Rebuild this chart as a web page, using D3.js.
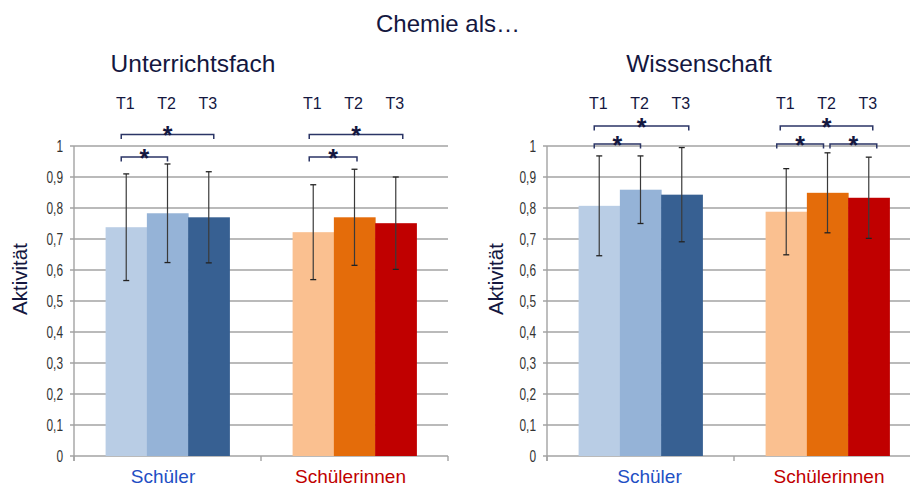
<!DOCTYPE html>
<html>
<head>
<meta charset="utf-8">
<script src="https://cdn.jsdelivr.net/npm/d3@7"></script>
<style>
  html, body { margin: 0; padding: 0; background: #fff; }
  svg { display: block; }
</style>
</head>
<body>
<svg id="chart" width="910" height="488"></svg>
<script>
// ---------- data ----------
const categories = ["Schüler", "Schülerinnen"];
const timepoints = ["T1", "T2", "T3"];
const yTickValues = [0, 0.1, 0.2, 0.3, 0.4, 0.5, 0.6, 0.7, 0.8, 0.9, 1];
const yTickLabels = ["0", "0,1", "0,2", "0,3", "0,4", "0,5", "0,6", "0,7", "0,8", "0,9", "1"];

const unterrichtSchueler      = [0.738, 0.783, 0.770];
const unterrichtSchuelerSD    = [0.172, 0.159, 0.147];
const unterrichtSchuelerinnen = [0.722, 0.770, 0.751];
const unterrichtSchuelerinnenSD = [0.153, 0.155, 0.149];

const wissenschaftSchueler      = [0.807, 0.859, 0.843];
const wissenschaftSchuelerSD    = [0.161, 0.109, 0.152];
const wissenschaftSchuelerinnen = [0.788, 0.849, 0.833];
const wissenschaftSchuelerinnenSD = [0.139, 0.129, 0.131];

// significance brackets: category index, from, to, level
const unterrichtBrackets = [
  { cat: 0, from: 0, to: 1, level: 0 },
  { cat: 0, from: 0, to: 2, level: 1 },
  { cat: 1, from: 0, to: 1, level: 0 },
  { cat: 1, from: 0, to: 2, level: 1 }
];
const wissenschaftBrackets = [
  { cat: 0, from: 0, to: 1, level: 0 },
  { cat: 0, from: 0, to: 2, level: 1 },
  { cat: 1, from: 0, to: 1, level: 0 },
  { cat: 1, from: 1, to: 2, level: 0 },
  { cat: 1, from: 0, to: 2, level: 1 }
];

// ---------- styles ----------
const colors = [
  ["#B9CDE5", "#95B3D7", "#376092"],
  ["#FAC090", "#E46C0A", "#C00000"]
];
const catColors = ["#1F4FC4", "#C00000"];
const navy = "#14173F";
const gridColor = "#A3A3A3";
const sans = "Liberation Sans, Arial, sans-serif";

const svg = d3.select("#chart");

svg.append("text")
  .attr("x", 448).attr("y", 31.5)
  .attr("text-anchor", "middle")
  .attr("font-family", sans)
  .attr("font-size", 24).attr("fill", navy)
  .text("Chemie als…");

const y = d3.scaleLinear().domain([0, 1]).range([456, 146]);

const panels = [
  { title: "Unterrichtsfach", titleX: 193, x0: 74, x1: 448, labelX: 27,
    catLabelDx: [-4.5, -4],
    means: [unterrichtSchueler, unterrichtSchuelerinnen],
    sds: [unterrichtSchuelerSD, unterrichtSchuelerinnenSD],
    brackets: unterrichtBrackets, levelY: [157, 134.5],
    bracketDx: [[-5, 0], [-5, 5], [-4, 2.5], [-4, 7]] },
  { title: "Wissenschaft", titleX: 699, x0: 547, x1: 921, labelX: 503,
    catLabelDx: [9, 1.5],
    means: [wissenschaftSchueler, wissenschaftSchuelerinnen],
    sds: [wissenschaftSchuelerSD, wissenschaftSchuelerinnenSD],
    brackets: wissenschaftBrackets, levelY: [144, 126],
    bracketDx: [[-5, 0], [-5, 7], [-9.5, -4], [2.5, 8], [-6, 4]] }
];

panels.forEach(p => {
  const g = svg.append("g");

  g.append("text")
    .attr("x", p.titleX).attr("y", 71.5)
    .attr("text-anchor", "middle")
    .attr("font-family", sans)
    .attr("font-size", 24.5).attr("fill", navy)
    .text(p.title);

  const x = d3.scaleBand().domain(d3.range(categories.length)).range([p.x0, p.x1]).padding(0);
  const bw = x.bandwidth();
  const inner = d3.scaleBand().domain(d3.range(timepoints.length))
    .range([bw * 0.169, bw * 0.831]).padding(0);
  const cx = (c, t) => x(c) + inner(t) + inner.bandwidth() / 2;

  // gridlines
  g.selectAll(".grid").data(yTickValues).enter().append("line")
    .attr("x1", p.x0 - 4).attr("x2", p.x1)
    .attr("y1", d => y(d)).attr("y2", d => y(d))
    .attr("stroke", gridColor).attr("stroke-width", 1.4);

  // y axis line
  g.append("line")
    .attr("x1", p.x0).attr("x2", p.x0)
    .attr("y1", y(1)).attr("y2", y(0) + 5)
    .attr("stroke", gridColor).attr("stroke-width", 1.4);

  // category tick marks
  const bounds = [p.x0, p.x0 + bw, p.x1];
  g.selectAll(".ctick").data(bounds).enter().append("line")
    .attr("x1", d => d).attr("x2", d => d)
    .attr("y1", y(0)).attr("y2", y(0) + 5)
    .attr("stroke", gridColor).attr("stroke-width", 1.4);

  // y tick labels (condensed look)
  g.selectAll(".ylab").data(yTickValues).enter().append("text")
    .attr("transform", d => `translate(${p.x0 - 11},${y(d) + 6}) scale(0.72,1)`)
    .attr("text-anchor", "end")
    .attr("font-family", sans)
    .attr("font-size", 16.5).attr("fill", "#333")
    .text((d, i) => yTickLabels[i]);

  // y axis title
  g.append("text")
    .attr("transform", `translate(${p.labelX},279) rotate(-90)`)
    .attr("text-anchor", "middle")
    .attr("font-family", sans)
    .attr("font-size", 20.5).attr("fill", navy)
    .text("Aktivität");

  // bars
  categories.forEach((cat, c) => {
    const rows = timepoints.map((t, i) => ({ t: i, v: p.means[c][i], sd: p.sds[c][i] }));
    g.selectAll(".bar" + c).data(rows).enter().append("rect")
      .attr("x", d => x(c) + inner(d.t))
      .attr("width", inner.bandwidth() + 0.5)
      .attr("y", d => y(d.v))
      .attr("height", d => y(0) - y(d.v))
      .attr("fill", d => colors[c][d.t]);

    // error bars
    const eb = g.selectAll(".eb" + c).data(rows).enter().append("g");
    eb.append("line")
      .attr("x1", d => cx(c, d.t)).attr("x2", d => cx(c, d.t))
      .attr("y1", d => y(d.v + d.sd)).attr("y2", d => y(d.v - d.sd))
      .attr("stroke", "#3a3a3a").attr("stroke-width", 1.2);
    [1, -1].forEach(s => {
      eb.append("line")
        .attr("x1", d => cx(c, d.t) - 3).attr("x2", d => cx(c, d.t) + 3)
        .attr("y1", d => y(d.v + s * d.sd)).attr("y2", d => y(d.v + s * d.sd))
        .attr("stroke", "#222").attr("stroke-width", 1.3);
    });

    // T labels
    g.selectAll(".tl" + c).data(timepoints).enter().append("text")
      .attr("x", (d, i) => cx(c, i) - 1)
      .attr("y", 108.5)
      .attr("text-anchor", "middle")
      .attr("font-family", sans)
      .attr("font-size", 16).attr("fill", navy)
      .text(d => d);

    // category label
    g.append("text")
      .attr("x", x(c) + bw / 2 + p.catLabelDx[c])
      .attr("y", 483)
      .attr("text-anchor", "middle")
      .attr("font-family", sans)
      .attr("font-size", 19).attr("fill", catColors[c])
      .text(cat);
  });

  // significance brackets
  p.brackets.forEach((b, i) => {
    const xa = cx(b.cat, b.from) + p.bracketDx[i][0];
    const xb = cx(b.cat, b.to) + p.bracketDx[i][1];
    const yy = p.levelY[b.level];
    g.append("path")
      .attr("d", `M${xa},${yy + 4.5}V${yy}H${xb}V${yy + 4.5}`)
      .attr("fill", "none").attr("stroke", "#2B3566").attr("stroke-width", 1.5);
    g.append("text")
      .attr("x", (xa + xb) / 2).attr("y", yy + 9.5)
      .attr("text-anchor", "middle")
      .attr("font-family", sans)
      .attr("font-weight", "bold")
      .attr("font-size", 25).attr("fill", navy)
      .text("*");
  });
});
</script>
</body>
</html>
